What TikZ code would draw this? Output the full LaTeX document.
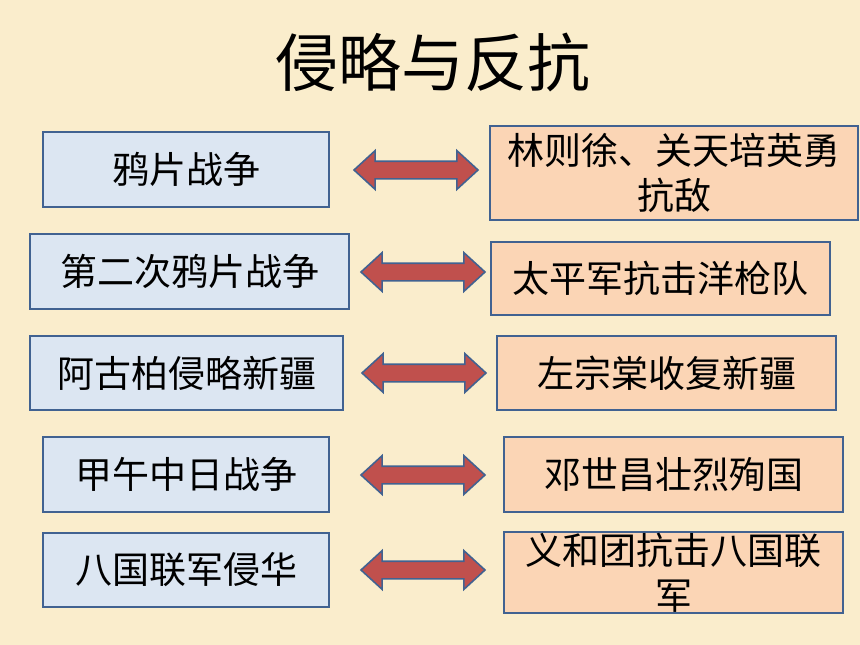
\documentclass[tikz,border=0pt]{standalone}
\usepackage{fontspec}
\setmainfont{Noto Sans CJK SC}
\usetikzlibrary{shapes.arrows}

\definecolor{parch}{RGB}{250,237,204}
\definecolor{bluefill}{RGB}{220,230,242}
\definecolor{peachfill}{RGB}{251,213,181}
\definecolor{edgeblue}{RGB}{65,98,145}
\definecolor{arrowred}{RGB}{192,80,77}

\begin{document}
\begin{tikzpicture}[x=1pt,y=-1pt,
  invade/.style={draw=edgeblue,line width=1.6pt,fill=bluefill,inner sep=0pt,
    align=center,font=\fontsize{37}{45}\selectfont},
  resist/.style={draw=edgeblue,line width=1.6pt,fill=peachfill,inner sep=0pt,
    align=center,font=\fontsize{37}{45}\selectfont},
  both/.style={double arrow,draw=edgeblue,line width=1.6pt,fill=arrowred,
    inner xsep=0pt,inner ysep=8pt,double arrow head extend=10.5pt,
    double arrow tip angle=85,minimum height=124pt}]

\fill[parch] (0,0) rectangle (860,645);
\useasboundingbox (0,0) rectangle (860,645);

\node[font=\fontsize{63}{70}\selectfont] (title) at (433,62) {侵略与反抗};

\node[invade,minimum width=286pt,minimum height=75pt] (l1) at (186,169.5) {鸦片战争};
\node[invade,minimum width=319pt,minimum height=75pt] (l2) at (189.5,271.5) {第二次鸦片战争};
\node[invade,minimum width=313pt,minimum height=74pt] (l3) at (186.5,373) {阿古柏侵略新疆};
\node[invade,minimum width=286pt,minimum height=75pt] (l4) at (186,474.5) {甲午中日战争};
\node[invade,minimum width=286pt,minimum height=74pt] (l5) at (186,570) {八国联军侵华};

\node[resist,minimum width=368pt,minimum height=94pt] (r1) at (674,173) {林则徐、关天培英勇\\抗敌};
\node[resist,minimum width=339pt,minimum height=73pt] (r2) at (660.5,278.5) {太平军抗击洋枪队};
\node[resist,minimum width=339pt,minimum height=74pt] (r3) at (666.5,373) {左宗棠收复新疆};
\node[resist,minimum width=339pt,minimum height=75pt] (r4) at (673.5,474.5) {邓世昌壮烈殉国};
\node[resist,minimum width=339pt,minimum height=81pt] (r5) at (673.5,572.5) {义和团抗击八国联\\军};

\node[both] (a1) at (416,170) {};
\node[both] (a2) at (423,272) {};
\node[both] (a3) at (424,373) {};
\node[both] (a4) at (423,475) {};
\node[both] (a5) at (423,570) {};

\end{tikzpicture}
\end{document}
